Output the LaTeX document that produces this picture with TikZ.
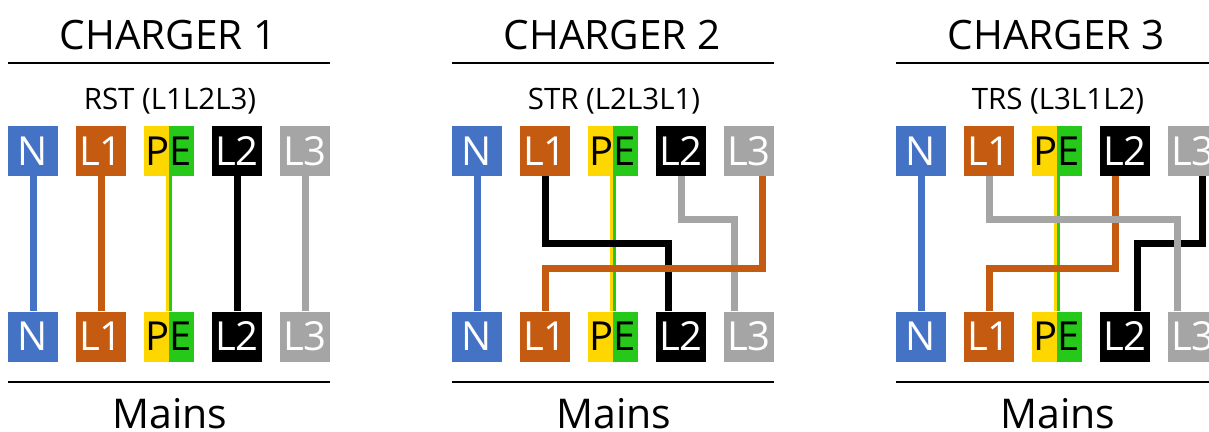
\documentclass[tikz,border=0pt]{standalone}
\usepackage{fontspec}
\setmainfont{Open Sans}
\definecolor{wireN}{HTML}{4472C4}
\definecolor{wireLa}{HTML}{C55A11}
\definecolor{wireLc}{HTML}{A5A5A5}
\definecolor{peyellow}{HTML}{FFD700}
\definecolor{pegreen}{HTML}{26C91A}
\tikzset{
  term/.style={minimum width=50pt, minimum height=50pt, inner sep=0pt, text=white, font=\fontsize{40}{40}\selectfont},
  pebox/.style={term, fill=peyellow, text=black,
    path picture={\fill[pegreen] (path picture bounding box.north) rectangle (path picture bounding box.south east);}},
  wire/.style={line width=7pt},
  rule/.style={line width=2pt},
}
\begin{document}
\begin{tikzpicture}[x=1pt, y=-1pt]
\useasboundingbox (0,0) rectangle (1209,431);
\foreach \i/\ox/\sub in {1/0/{RST (L1L2L3)}, 2/444/{STR (L2L3L1)}, 3/888/{TRS (L3L1L2)}}{
  \node[anchor=base, font=\fontsize{40.5}{40}\selectfont] (title\i) at (\ox+168,49) {CHARGER \i};
  \draw[rule] (\ox+8,63) -- (\ox+330,63);
  \node[anchor=base, font=\fontsize{29.5}{29}\selectfont] (order\i) at (\ox+170,109) {\sub};
  \foreach \t/\c/\k in {N/wireN/0, L1/wireLa/1, L2/black/3, L3/wireLc/4}{
    \node[term, fill=\c] (c\i-\t-top) at (\ox+33+68*\k,151) {\t};
    \node[term, fill=\c] (c\i-\t-bot) at (\ox+33+68*\k,336.5) {\t};
  }
  \node[pebox] (c\i-PE-top) at (\ox+169,151) {PE};
  \node[pebox] (c\i-PE-bot) at (\ox+169,336.5) {PE};
  \draw[wire, wireN] (c\i-N-top.south) -- (c\i-N-bot.north);
  \draw[line width=3pt, peyellow] ([xshift=-1.5pt]c\i-PE-top.south) -- ([xshift=-1.5pt]c\i-PE-bot.north);
  \draw[line width=3pt, pegreen] ([xshift=1.5pt]c\i-PE-top.south) -- ([xshift=1.5pt]c\i-PE-bot.north);
  \draw[rule] (\ox+8,382) -- (\ox+330,382);
  \node[anchor=base, font=\fontsize{41}{41}\selectfont] (mains\i) at (\ox+170,428) {Mains};
}
% charger 1: straight through
\foreach \t/\c in {L1/wireLa, L2/black, L3/wireLc}
  \draw[wire, \c] (c1-\t-top.south) -- (c1-\t-bot.north);
% charger 2
\draw[wire, black] (c2-L1-top.south) -- ++(0,67) -| ([xshift=-13pt]c2-L2-bot.north);
\draw[wire, wireLc] (c2-L2-top.south) -- ++(0,43) -| ([xshift=-15pt]c2-L3-bot.north);
\draw[wire, wireLa] ([xshift=13pt]c2-L3-top.south) -- ++(0,92) -| (c2-L1-bot.north);
% charger 3
\draw[wire, black] ([xshift=9pt]c3-L3-top.south) -- ++(0,67) -| ([xshift=12pt]c3-L2-bot.north);
\draw[wire, wireLa] ([xshift=-10pt]c3-L2-top.south) -- ++(0,92) -| (c3-L1-bot.north);
\draw[wire, wireLc] (c3-L1-top.south) -- ++(0,43) -| ([xshift=-16pt]c3-L3-bot.north);
\end{tikzpicture}
\end{document}
